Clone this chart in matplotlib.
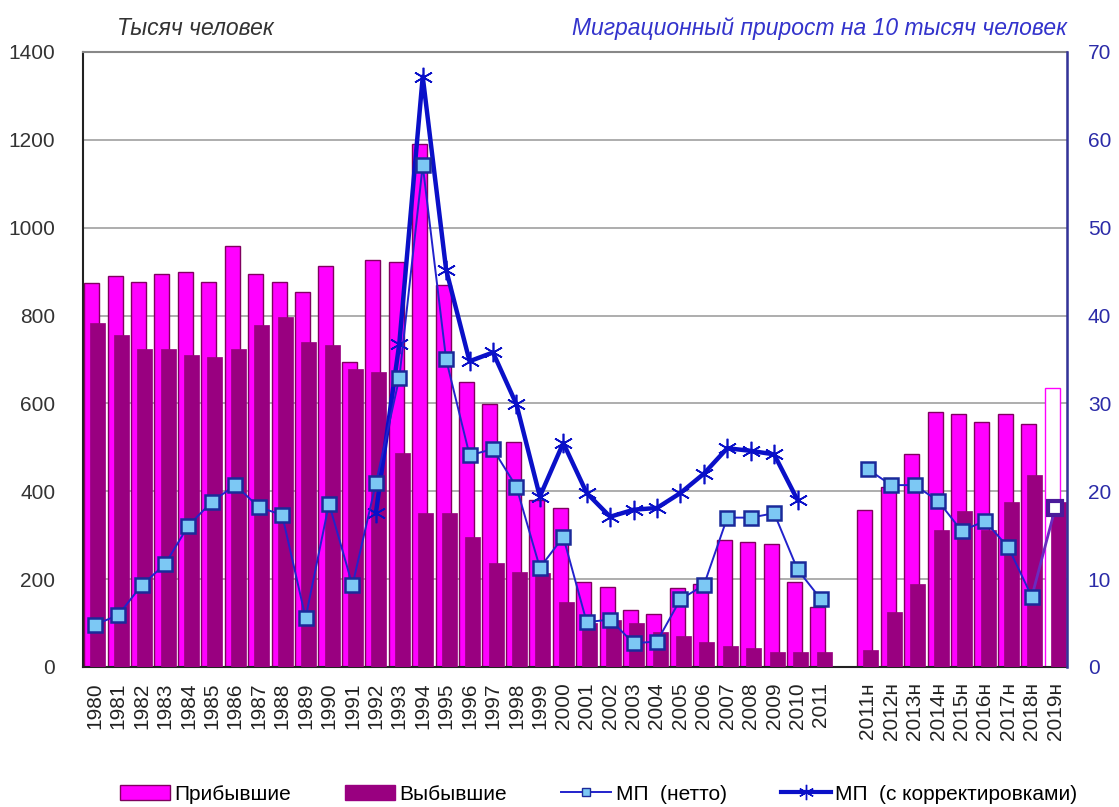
import matplotlib.pyplot as plt
import numpy as np
from matplotlib.lines import Line2D
from matplotlib.patches import Patch

plt.rcParams['font.family'] = ['Liberation Sans', 'DejaVu Sans']

# годы: 1980-2011 и ряд "н" 2011н-2019н (с пропуском между ними)
years = [str(y) for y in range(1980, 2012)]
years_n = [f'{y}н' for y in range(2011, 2020)]
labels = years + years_n

# тысяч человек
arrived = [875, 890, 876, 895, 899, 876, 958, 895, 876, 854, 913, 694, 926, 922, 1190, 869,
           649, 599, 512, 380, 362, 193, 183, 130, 121, 180, 190, 289, 284, 280, 193, 137,
           357, 410, 485, 581, 576, 558, 576, 553, 634]
departed = [783, 756, 723, 723, 710, 705, 723, 778, 797, 740, 733, 678, 672, 486, 350, 350,
            296, 237, 217, 215, 149, 100, 107, 100, 80, 71, 58, 48, 43, 35, 35, 35,
            39, 126, 189, 312, 354, 312, 376, 436, 375]

# миграционный прирост на 10 тысяч человек
mp_net = [4.8, 5.9, 9.3, 11.7, 16.1, 18.8, 20.7, 18.2, 17.3, 5.6, 18.6, 9.3, 20.9, 32.9, 57.1, 35.0,
          24.1, 24.8, 20.5, 11.3, 14.8, 5.1, 5.4, 2.7, 2.9, 7.7, 9.3, 17.0, 17.0, 17.5, 11.1, 7.7]
mp_net_n = [22.5, 20.7, 20.7, 18.9, 15.5, 16.6, 13.6, 8.0, 18.1]
mp_corr_years = list(range(1992, 2011))
mp_corr = [17.5, 36.8, 67.2, 45.2, 34.8, 35.8, 29.9, 19.4, 25.5, 19.8, 17.1, 17.9, 18.1, 19.8,
           22.0, 24.9, 24.6, 24.2, 19.0]

pos = np.array(list(range(len(years))) + list(range(len(years) + 1, len(years) + 1 + len(years_n))))
pos_old = pos[:len(years)]
pos_n = pos[len(years):]
pos_corr = pos_old[[years.index(str(y)) for y in mp_corr_years]]

magenta = '#FF00FF'
purple = '#990080'
fig = plt.figure(figsize=(11.19, 8.07), dpi=100)
ax = fig.add_axes([0.0742, 0.1735, 0.8793, 0.7621])

w = 0.64
fc = [magenta] * (len(arrived) - 1) + ['white']
ax.bar(pos - 0.13, arrived, width=w, color=fc, edgecolor=['#800060'] * (len(arrived) - 1) + [magenta],
       linewidth=1.0, zorder=2)
ax.bar(pos + 0.13, departed, width=w, color=purple, edgecolor=purple, linewidth=0.5, zorder=3)

ax.set_xlim(-0.5, pos[-1] + 0.5)
ax.set_ylim(0, 1400)
ax.set_yticks(range(0, 1401, 200))
ax.yaxis.grid(True, color='#a0a0a0', linewidth=1.2, zorder=0)
ax.set_axisbelow(True)
ax.set_xticks(pos)
ax.set_xticklabels(labels, rotation=90, fontsize=15, color='#222222')
ax.tick_params(axis='x', length=0, pad=11)
ax.tick_params(axis='y', length=0, pad=20, labelsize=15, labelcolor='#333333')
ax.spines['top'].set_color('#888888')
ax.spines['top'].set_linewidth(1.5)
ax.spines['left'].set_color('#222222')
ax.spines['bottom'].set_color('#222222')
ax.spines['left'].set_linewidth(1.5)
ax.spines['bottom'].set_linewidth(1.5)

ax2 = ax.twinx()
ax2.set_ylim(0, 70)
ax2.set_yticks(range(0, 71, 10))
ax2.tick_params(axis='y', length=0, pad=15, labelsize=15, labelcolor='#2B2BA8')
ax2.spines['right'].set_color('#333399')
ax2.spines['right'].set_linewidth(1.8)
for s in ['top', 'left', 'bottom']:
    ax2.spines[s].set_visible(False)

line_blue = '#2222CC'
sq = dict(marker='s', markersize=10, markerfacecolor='#7CC8F4', markeredgecolor='#1A2A9A',
          markeredgewidth=1.8)
ax2.plot(pos_corr, mp_corr, color='#0A10C8', linewidth=3.2, marker=(6, 2, 0), markersize=14,
         markeredgewidth=1.2, markeredgecolor='#0A10C8', zorder=4)
ax2.plot(pos_old, mp_net, color=line_blue, linewidth=1.4, zorder=5, **sq)
ax2.plot(pos_n[:-1], mp_net_n[:-1], color=line_blue, linewidth=1.4, zorder=5, **sq)
ax2.plot(pos_n[-2:], mp_net_n[-2:], color='#6A2BC0', linewidth=2, zorder=4)
ax2.plot(pos_n[-1], mp_net_n[-1], marker='s', markersize=10, markerfacecolor='white',
         markeredgecolor='#4B1A9A', markeredgewidth=3, zorder=6)

fig.text(0.105, 0.965, 'Тысяч человек', fontsize=16.5, style='italic', color='#333333', va='center')
fig.text(0.9535, 0.965, 'Миграционный прирост на 10 тысяч человек', fontsize=16.5, style='italic',
         color='#3333CC', va='center', ha='right')

handles = [
    Patch(facecolor=magenta, edgecolor='#800060', label='Прибывшие'),
    Patch(facecolor=purple, edgecolor=purple, label='Выбывшие'),
    Line2D([], [], color=line_blue, linewidth=1.4, marker='s', markersize=6,
           markerfacecolor='#7CC8F4', markeredgecolor='#1A2A9A', label='МП  (нетто)'),
    Line2D([], [], color='#0A10C8', linewidth=3, marker=(6, 2, 0), markersize=11,
           label='МП  (с корректировками)'),
]
fig.legend(handles=handles, loc='center', bbox_to_anchor=(0.535, 0.016), ncol=4, frameon=False,
           fontsize=15, handlelength=2.4, handletextpad=0.2, columnspacing=2.6)

plt.savefig('out.png', dpi=100)
